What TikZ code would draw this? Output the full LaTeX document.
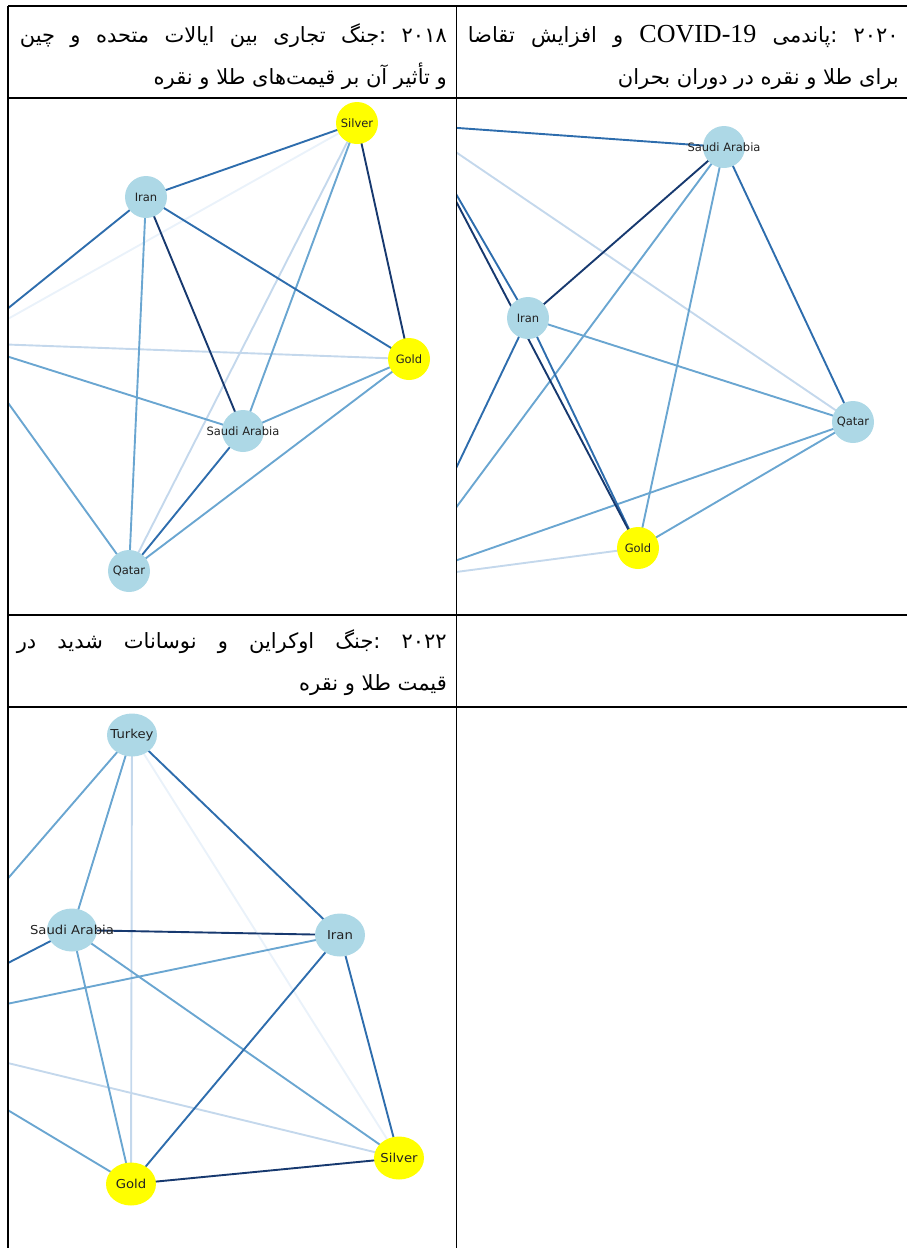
\documentclass[tikz,border=0pt]{standalone}
\usepackage{fontspec}
\usepackage{graphicx}
\usetikzlibrary{shapes.geometric}
\TeXXeTstate=1
\newfontfamily\fa[Script=Arabic]{DejaVu Sans}
\newfontfamily\lat{Liberation Serif}
\newfontfamily\labelfont{DejaVu Sans}

\definecolor{navy}{HTML}{17396F}
\definecolor{deep}{HTML}{2E6DAD}
\definecolor{mid}{HTML}{6AA6D1}
\definecolor{pale}{HTML}{C4D8EC}
\definecolor{faint}{HTML}{EAF2FA}
\definecolor{nodeblue}{HTML}{ADD8E6}
\definecolor{nodegold}{HTML}{FFFF00}
\definecolor{labelgray}{HTML}{222222}

\pgfdeclarelayer{edges}
\pgfsetlayers{edges,main}

\tikzset{
  nodetext/.style={font=\labelfont\fontsize{11.5}{11.5}\selectfont, text=labelgray, inner sep=0pt},
  country/.style={circle, fill=nodeblue, minimum size=42pt, inner sep=0pt},
  metal/.style={country, fill=nodegold},
  oval/.style={ellipse, fill=nodeblue, minimum width=50pt, minimum height=43pt, inner sep=0pt},
  ovalmetal/.style={oval, fill=nodegold},
  edge/.style={line width=1.9pt},
  rule/.style={line width=1.5pt, black},
  headline/.style={anchor=base east, inner sep=0pt, font=\fa\fontsize{21}{25}\selectfont}
}
% stretched label for the third graph
\newcommand{\wide}[1]{\scalebox{1.15}[1.07]{#1}}

\begin{document}
\begin{tikzpicture}[x=1pt,y=-1pt]
\useasboundingbox (0,0) rectangle (907,1248);

% ---------- header texts ----------
\node[headline] (h1a) at (447,42) {\hbox to 427pt{\beginR ۲۰۱۸ :جنگ تجاری بین ایالات متحده و چین\endR}};
\node[headline] (h1b) at (447,84) {\beginR و تأثیر آن بر قیمت‌های طلا و نقره\endR};
\node[headline] (h2a) at (899,42) {\hbox to 431pt{\beginR ۲۰۲۰ :پاندمی \hbox{\lat\fontsize{26}{26}\selectfont COVID-19} و افزایش تقاضا\endR}};
\node[headline] (h2b) at (899,84) {\beginR برای طلا و نقره در دوران بحران\endR};
\node[headline] (h3a) at (447,648) {\hbox to 430pt{\beginR ۲۰۲۲ :جنگ اوکراین و نوسانات شدید در\endR}};
\node[headline] (h3b) at (447,690) {\beginR قیمت طلا و نقره\endR};

% ---------- graph 2018 ----------
\node[metal,   label={[nodetext]center:Silver}]       (aS) at (357,123) {};
\node[country, label={[nodetext]center:Iran}]         (aI) at (146,197) {};
\node[metal,   label={[nodetext]center:Gold}]         (aG) at (409,359) {};
\node[country, label={[nodetext]center:Saudi Arabia}] (aA) at (243,431) {};
\node[country, label={[nodetext]center:Qatar}]        (aQ) at (129,571) {};
\coordinate (aT) at (-35,343);

\begin{pgfonlayer}{edges}
\begin{scope}
\clip (8,98) rectangle (457,615);
\draw[edge, faint] (aS.center) -- (aT);
\draw[edge, pale]  (aS.center) -- (aQ.center);
\draw[edge, pale]  (aG.center) -- (aT);
\draw[edge, mid]   (aS.center) -- (aA.center);
\draw[edge, mid]   (aI.center) -- (aQ.center);
\draw[edge, mid]   (aG.center) -- (aA.center);
\draw[edge, mid]   (aG.center) -- (aQ.center);
\draw[edge, mid]   (aA.center) -- (aT);
\draw[edge, mid]   (aQ.center) -- (aT);
\draw[edge, deep]  (aI.center) -- (aS.center);
\draw[edge, deep]  (aI.center) -- (aG.center);
\draw[edge, deep]  (aI.center) -- (aT);
\draw[edge, deep]  (aA.center) -- (aQ.center);
\draw[edge, navy]  (aS.center) -- (aG.center);
\draw[edge, navy]  (aI.center) -- (aA.center);
\end{scope}
\end{pgfonlayer}

% ---------- graph 2020 ----------
\node[country, label={[nodetext]center:Saudi Arabia}] (bA) at (724,147) {};
\node[country, label={[nodetext]center:Iran}]         (bI) at (528,318) {};
\node[country, label={[nodetext]center:Qatar}]        (bQ) at (853,422) {};
\node[metal,   label={[nodetext]center:Gold}]         (bG) at (638,548) {};
\coordinate (bS) at (416,125);
\coordinate (bT) at (403,579);

\begin{pgfonlayer}{edges}
\begin{scope}
\clip (457,98) rectangle (907,615);
\draw[edge, pale]  (bQ.center) -- (bS);
\draw[edge, pale]  (bG.center) -- (bT);
\draw[edge, mid]   (bA.center) -- (bG.center);
\draw[edge, mid]   (bA.center) -- (bT);
\draw[edge, mid]   (bI.center) -- (bQ.center);
\draw[edge, mid]   (bQ.center) -- (bT);
\draw[edge, mid]   (bQ.center) -- (bG.center);
\draw[edge, deep]  (bA.center) -- (bS);
\draw[edge, deep]  (bA.center) -- (bQ.center);
\draw[edge, deep]  (bI.center) -- (bT);
\draw[edge, deep]  (bI.center) -- (bS);
\draw[edge, deep]  (bI.center) -- (bG.center);
\draw[edge, navy]  (bG.center) -- (bS);
\draw[edge, navy]  (bA.center) -- (bI.center);
\end{scope}
\end{pgfonlayer}

% ---------- graph 2022 ----------
\node[oval,      label={[nodetext]center:\wide{Turkey}}]       (cT) at (132,735) {};
\node[oval,      label={[nodetext]center:\wide{Saudi Arabia}}] (cA) at (72,930) {};
\node[oval,      label={[nodetext]center:\wide{Iran}}]         (cI) at (340,935) {};
\node[ovalmetal, label={[nodetext]center:\wide{Silver}}]       (cS) at (399,1158) {};
\node[ovalmetal, label={[nodetext]center:\wide{Gold}}]         (cG) at (131,1184) {};
\coordinate (cQ) at (-124,1031);

\begin{pgfonlayer}{edges}
\begin{scope}
\clip (8,707) rectangle (457,1248);
\draw[edge, faint] (cT.center) -- (cS.center);
\draw[edge, pale]  (cT.center) -- (cG.center);
\draw[edge, pale]  (cS.center) -- (cQ);
\draw[edge, mid]   (cT.center) -- (cA.center);
\draw[edge, mid]   (cT.center) -- (cQ);
\draw[edge, mid]   (cA.center) -- (cS.center);
\draw[edge, mid]   (cA.center) -- (cG.center);
\draw[edge, mid]   (cI.center) -- (cQ);
\draw[edge, mid]   (cG.center) -- (cQ);
\draw[edge, deep]  (cT.center) -- (cI.center);
\draw[edge, deep]  (cA.center) -- (cQ);
\draw[edge, deep]  (cI.center) -- (cG.center);
\draw[edge, deep]  (cI.center) -- (cS.center);
\draw[edge, navy]  (cA.center) -- (cI.center);
\draw[edge, navy]  (cS.center) -- (cG.center);
\end{scope}
\end{pgfonlayer}

% ---------- table rules ----------
\draw[rule] (8,6) -- (907,6);
\draw[rule] (8,6) -- (8,1248);
\draw[rule] (456.5,6) -- (456.5,1248);
\draw[rule] (8,98) -- (907,98);
\draw[rule, line width=2pt] (8,615) -- (907,615);
\draw[rule] (8,707) -- (907,707);
\end{tikzpicture}
\end{document}
